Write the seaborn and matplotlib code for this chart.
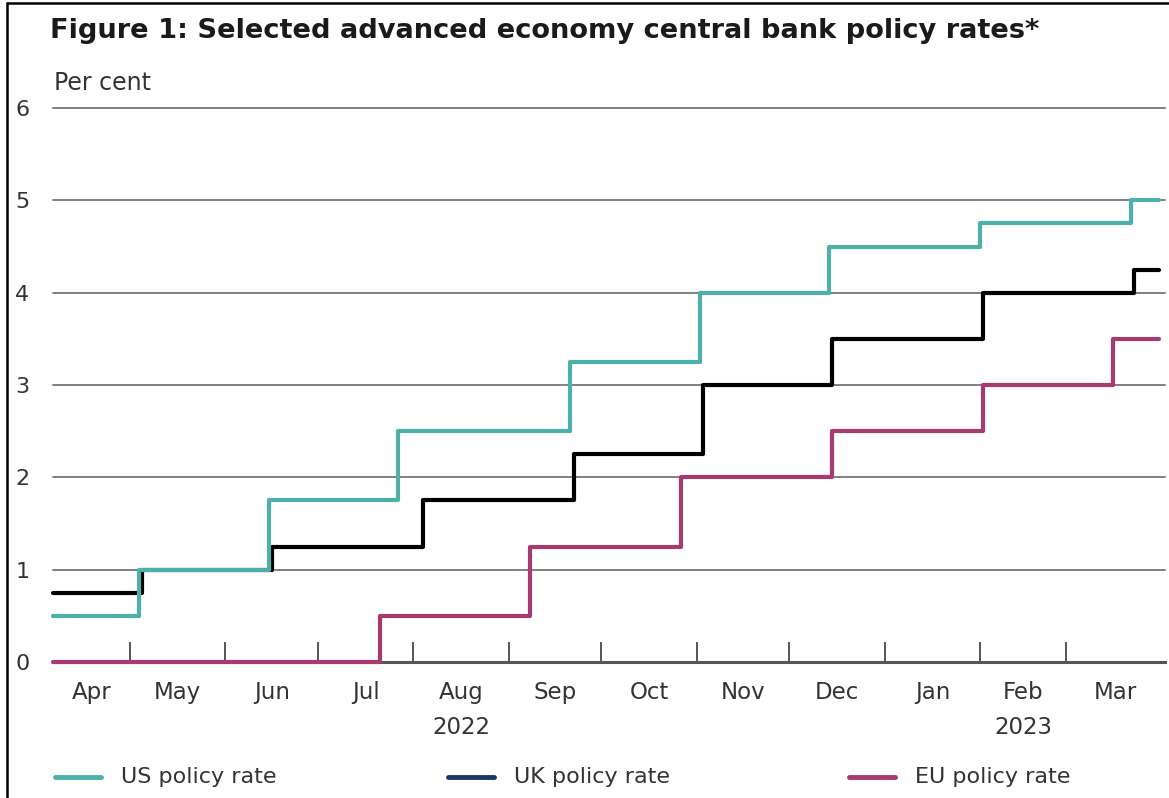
import matplotlib
matplotlib.use("Agg")
import matplotlib.pyplot as plt
from matplotlib.lines import Line2D
import seaborn as sns
import pandas as pd

# ---------------- data ----------------
us_dates = ["2022-04-06", "2022-05-04", "2022-06-15", "2022-07-27", "2022-09-21",
            "2022-11-02", "2022-12-14", "2023-02-01", "2023-03-22", "2023-03-31"]
us_rates = [0.50, 1.00, 1.75, 2.50, 3.25, 4.00, 4.50, 4.75, 5.00, 5.00]

uk_dates = ["2022-04-06", "2022-05-05", "2022-06-16", "2022-08-04", "2022-09-22",
            "2022-11-03", "2022-12-15", "2023-02-02", "2023-03-23", "2023-03-31"]
uk_rates = [0.75, 1.00, 1.25, 1.75, 2.25, 3.00, 3.50, 4.00, 4.25, 4.25]

eu_dates = ["2022-04-06", "2022-07-21", "2022-09-08", "2022-10-27", "2022-12-15",
            "2023-02-02", "2023-03-16", "2023-03-31"]
eu_rates = [0.00, 0.50, 1.25, 2.00, 2.50, 3.00, 3.50, 3.50]

series_names = ["UK policy rate", "US policy rate", "EU policy rate"]
legend_order = ["US policy rate", "UK policy rate", "EU policy rate"]
month_labels = ["Apr", "May", "Jun", "Jul", "Aug", "Sep", "Oct", "Nov", "Dec",
                "Jan", "Feb", "Mar"]
year_labels = {"2022": "2022-08-01", "2023": "2023-02-01"}
x_start, x_end = "2022-04-06", "2023-04-02"
y_ticks = [0, 1, 2, 3, 4, 5, 6]

# ---------------- styling ----------------
colors = {"US policy rate": "#4DB1AA", "UK policy rate": "#000000", "EU policy rate": "#A83A72"}
legend_colors = {"US policy rate": "#4DB1AA", "UK policy rate": "#1F3568", "EU policy rate": "#A83A72"}
txt = "#333333"

frames = []
for name, d, v in [("UK policy rate", uk_dates, uk_rates),
                   ("US policy rate", us_dates, us_rates),
                   ("EU policy rate", eu_dates, eu_rates)]:
    frames.append(pd.DataFrame({"date": pd.to_datetime(d), "rate": v, "series": name}))
df = pd.concat(frames, ignore_index=True)

sns.set_theme(style="white")
plt.rcParams["font.family"] = ["DejaVu Sans"]

W, H = 1169, 798
fig = plt.figure(figsize=(W / 100, H / 100), dpi=100)
ax = fig.add_axes([53 / W, 1 - 662 / H, (1165 - 53) / W, (662 - 108) / H])

for name in series_names:
    sub = df[df["series"] == name]
    sns.lineplot(data=sub, x="date", y="rate", ax=ax, color=colors[name],
                 drawstyle="steps-post", linewidth=3.0, legend=False,
                 clip_on=False, zorder=3, estimator=None)

ax.set_xlim(pd.Timestamp(x_start), pd.Timestamp(x_end))
ax.set_ylim(0, 6)
ax.set_xlabel("")
ax.set_ylabel("")

# gridlines
ax.set_yticks(y_ticks)
ax.yaxis.grid(True, color="#808080", linewidth=1.4)
ax.xaxis.grid(False)
ax.set_axisbelow(True)
for gl in ax.get_ygridlines():
    gl.set_clip_on(False)
ax.tick_params(axis="y", length=0, pad=17, labelsize=16, labelcolor=txt)

for s in ["top", "right", "left"]:
    ax.spines[s].set_visible(False)
ax.spines["bottom"].set_color("#555555")
ax.spines["bottom"].set_linewidth(2.2)
ax.spines["bottom"].set_zorder(2)

# month ticks (boundaries) and labels (centred in visible month portion)
xs = pd.Timestamp(x_start)
xe = pd.Timestamp(x_end)
bounds = list(pd.date_range("2022-05-01", "2023-03-01", freq="MS"))
ax.set_xticks(bounds)
ax.set_xticklabels([])
ax.tick_params(axis="x", which="major", direction="in", length=14.5, width=1.4,
               color="#555555", bottom=True)
edges = [xs] + bounds + [xe]
mids = [a + (b - a) / 2 for a, b in zip(edges[:-1], edges[1:])]
ax.set_xticks(mids, minor=True)
ax.set_xticklabels(month_labels, minor=True)
ax.tick_params(axis="x", which="minor", length=0, pad=14, labelsize=16.5, labelcolor=txt)

for yl, md in year_labels.items():
    m0 = pd.Timestamp(md)
    m1 = m0 + pd.offsets.MonthBegin(1)
    ax.annotate(yl, xy=(m0 + (m1 - m0) / 2, 0), xycoords=("data", "axes fraction"),
                xytext=(0, -66), textcoords="offset pixels", ha="center", va="center",
                fontsize=16.5, color=txt)

# title and unit
fig.text(50 / W, 1 - 31 / H, "Figure 1: Selected advanced economy central bank policy rates*",
         fontsize=19.6, fontweight="bold", color="#1a1a1a", va="center", ha="left")
fig.text(54 / W, 1 - 83 / H, "Per cent", fontsize=17, color=txt, va="center", ha="left")

# legend (drawn manually to match spacing)
leg_x = [55, 448, 849]
leg_y = 1 - 777 / H
for n, x0 in zip(legend_order, leg_x):
    fig.add_artist(Line2D([x0 / W, (x0 + 46) / W], [leg_y, leg_y], color=legend_colors[n],
                          linewidth=3.5, transform=fig.transFigure))
    fig.text((x0 + 66) / W, leg_y, n, fontsize=16, color=txt, va="center", ha="left")

# frame edges of the original screenshot
fig.add_artist(Line2D([7 / W, 7 / W], [0, 1 - 3 / H], color="black", linewidth=1.8,
                      transform=fig.transFigure))
fig.add_artist(Line2D([7 / W, 1], [1 - 3 / H, 1 - 3 / H], color="black", linewidth=1.8,
                      transform=fig.transFigure))

fig.savefig("out.png", dpi=100)
